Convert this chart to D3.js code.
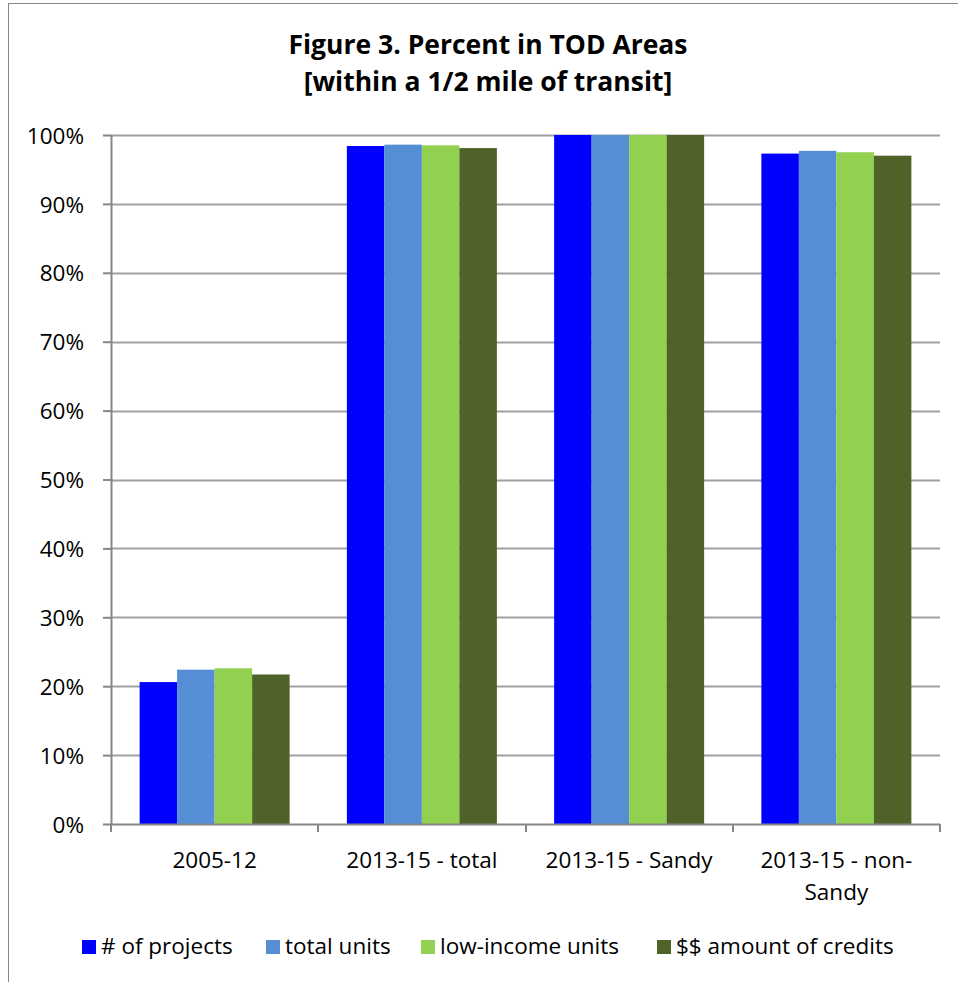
<!DOCTYPE html>
<html>
<head>
<meta charset="utf-8">
<script src="https://cdn.jsdelivr.net/npm/d3@7"></script>
<style>
  html, body { margin: 0; padding: 0; background: #fff; }
  svg { display: block; }
  text { font-family: "Open Sans", "Noto Sans", sans-serif; fill: #000; }
</style>
</head>
<body>
<svg id="chart" width="958" height="982"></svg>
<script>
const titleLines = ["Figure 3. Percent in TOD Areas", "[within a 1/2 mile of transit]"];
const categories = ["2005-12", "2013-15 - total", "2013-15 - Sandy", "2013-15 - non-Sandy"];
const categoryLabelLines = [["2005-12"], ["2013-15 - total"], ["2013-15 - Sandy"], ["2013-15 - non-", "Sandy"]];
const seriesNames = ["# of projects", "total units", "low-income units", "$$ amount of credits"];
const seriesColors = ["#0000FF", "#558ED5", "#92D050", "#4F6228"];
const projects = [20.6, 98.4, 100, 97.3];
const totalUnits = [22.4, 98.6, 100, 97.7];
const lowIncomeUnits = [22.6, 98.5, 100, 97.5];
const credits = [21.7, 98.1, 100, 97.0];
const yTicks = [0, 10, 20, 30, 40, 50, 60, 70, 80, 90, 100];

const seriesValues = [projects, totalUnits, lowIncomeUnits, credits];

const svg = d3.select("#chart");
const FONT = "\"Open Sans\", \"Noto Sans\", sans-serif";

// outer frame (extends past right/bottom edges)
svg.append("rect")
  .attr("x", 8.5).attr("y", 3.5)
  .attr("width", 1000).attr("height", 1000)
  .attr("fill", "none").attr("stroke", "#868686").attr("stroke-width", 1);

const plot = { left: 111, right: 940, top: 135, bottom: 824 };

const x0 = d3.scaleBand().domain(categories).range([plot.left, plot.right]).paddingInner(0).paddingOuter(0);
const groupWidthFrac = 150 / x0.bandwidth();
const outerPad = (1 - groupWidthFrac) / 2 * seriesNames.length / groupWidthFrac;
const x1 = d3.scaleBand().domain(d3.range(seriesNames.length))
  .range([0, x0.bandwidth()])
  .paddingOuter(outerPad)
  .paddingInner(0);
const y = d3.scaleLinear().domain([0, 100]).range([plot.bottom, plot.top]);

// gridlines
svg.append("g").selectAll("line").data(yTicks.filter(d => d > 0)).join("line")
  .attr("x1", plot.left).attr("x2", plot.right)
  .attr("y1", d => Math.round(y(d)) + 0.5).attr("y2", d => Math.round(y(d)) + 0.5)
  .attr("stroke", "#A0A0A0").attr("stroke-width", 2);

// bars
const groups = svg.append("g").selectAll("g").data(categories).join("g")
  .attr("transform", d => `translate(${x0(d)},0)`);
groups.selectAll("rect").data((c, ci) => seriesValues.map((s, si) => ({ si, v: s[ci] })))
  .join("rect")
  .attr("x", d => x1(d.si))
  .attr("width", x1.bandwidth())
  .attr("y", d => y(d.v))
  .attr("height", d => y(0) - y(d.v))
  .attr("fill", d => seriesColors[d.si]);

// y axis
const yAxis = d3.axisLeft(y).tickValues(yTicks).tickFormat(d => d + "%").tickSize(8).tickPadding(19);
const gy = svg.append("g").attr("transform", `translate(${plot.left},0)`).call(yAxis);
gy.select(".domain").attr("stroke", "#868686").attr("stroke-width", 2).attr("d", `M0.5,${plot.bottom}V${plot.top}`);
gy.selectAll(".tick line").attr("stroke", "#868686").attr("stroke-width", 2);
gy.selectAll(".tick text").attr("font-size", 22.5).attr("font-family", FONT).attr("fill", "#000").attr("dy", "0.36em");

// x axis
const xAxis = d3.axisBottom(x0).tickSize(0).tickFormat("");
const gx = svg.append("g").attr("transform", `translate(0,${plot.bottom})`).call(xAxis);
gx.select(".domain").attr("stroke", "#868686").attr("stroke-width", 2).attr("d", `M${plot.left},0.5H${plot.right}`);
const boundaries = categories.map(c => x0(c)).concat([plot.right]);
gx.append("g").selectAll("line").data(boundaries).join("line")
  .attr("x1", d => Math.round(d)).attr("x2", d => Math.round(d))
  .attr("y1", 0).attr("y2", 8)
  .attr("stroke", "#868686").attr("stroke-width", 2);

// category labels
const catLabels = svg.append("g").selectAll("text").data(categories).join("text")
  .attr("x", d => x0(d) + x0.bandwidth() / 2)
  .attr("y", 868)
  .attr("text-anchor", "middle")
  .attr("font-size", 22.5);
catLabels.each(function(d, i) {
  const t = d3.select(this);
  categoryLabelLines[i].forEach((ln, li) => {
    t.append("tspan").attr("x", x0(d) + x0.bandwidth() / 2).attr("dy", li === 0 ? 0 : 32).text(ln);
  });
});

// title
svg.append("g").selectAll("text").data(titleLines).join("text")
  .attr("x", 488)
  .attr("y", (d, i) => 54 + i * 37)
  .attr("text-anchor", "middle")
  .attr("font-size", 26.5)
  .attr("font-weight", "bold")
  .text(d => d);

// legend
const legend = svg.append("g").attr("transform", "translate(0,954)");
const legendX = [82, 266, 421, 657];
const items = legend.selectAll("g").data(seriesNames).join("g")
  .attr("transform", (d, i) => `translate(${legendX[i]},0)`);
items.append("rect").attr("x", 0).attr("y", -14).attr("width", 14).attr("height", 14)
  .attr("fill", (d, i) => seriesColors[i]);
items.append("text").attr("x", 19).attr("y", 0)
  .attr("font-size", 22.5).text(d => d);
</script>
</body>
</html>
